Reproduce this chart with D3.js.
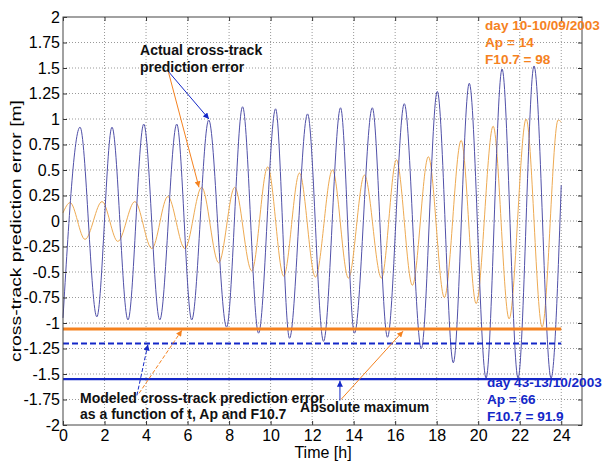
<!DOCTYPE html>
<html>
<head>
<meta charset="utf-8">
<style>
  body { margin: 0; background: #fff; }
  svg { display: block; font-family: Arial, "Liberation Sans", sans-serif; }
</style>
</head>
<body>
<svg width="603" height="467"></svg>
<script src="https://d3js.org/d3.v7.min.js"></script>
<script>
// actual cross-track prediction error (blue), extrema
var blueT = [0, 0.82, 1.63, 2.36, 3.13, 3.89, 4.66, 5.48, 6.2, 7.02, 7.88, 8.65, 9.42, 10.24, 10.91, 11.78,
             12.55, 13.37, 14.04, 14.9, 15.63, 16.44, 17.26, 18.03, 18.8, 19.57, 20.38, 21.15, 21.92, 22.69, 23.51, 24];
var blueV = [-0.95, 0.92, -0.94, 0.92, -0.97, 0.95, -0.97, 0.95, -0.97, 0.99, -1.04, 1.12, -1.1, 1.1, -1.15, 1.05,
             -1.18, 1.11, -1.1, 1.11, -1.14, 1.15, -1.25, 1.27, -1.39, 1.35, -1.54, 1.49, -1.54, 1.52, -1.54, 0.35];

// second day (orange)
var orangeT = [0, 0.34, 1.06, 1.88, 2.64, 3.46, 4.28, 5.05, 5.87, 6.68, 7.5, 8.27, 9.09, 9.86, 10.63, 11.39,
               12.16, 12.98, 13.75, 14.52, 15.34, 16.06, 16.83, 17.6, 18.37, 19.18, 19.9, 20.72, 21.49, 22.31, 23.08, 23.85, 24];
var orangeV = [0.08, 0.18, -0.18, 0.19, -0.2, 0.19, -0.27, 0.24, -0.27, 0.33, -0.41, 0.33, -0.49, 0.53, -0.54, 0.47,
               -0.55, 0.5, -0.56, 0.45, -0.56, 0.6, -0.63, 0.63, -0.75, 0.79, -0.81, 0.93, -0.96, 1.0, -1.04, 0.99, 0.97];

// horizontal levels
var levelOrangeModel = -1.06;
var levelBlueModel = -1.2;
var levelBlueMax = -1.55;
var levelSpan = [0, 24];

var xTicks = [0, 2, 4, 6, 8, 10, 12, 14, 16, 18, 20, 22, 24];
var yTicks = [2, 1.75, 1.5, 1.25, 1, 0.75, 0.5, 0.25, 0, -0.25, -0.5, -0.75, -1, -1.25, -1.5, -1.75, -2];

var infoOrange = ["day 10-10/09/2003", "Ap = 14", "F10.7 = 98"];
var infoBlue = ["day 43-13/10/2003", "Ap = 66", "F10.7 = 91.9"];
var actualLabel = ["Actual cross-track", "prediction error"];
var modeledLabel = ["Modeled cross-track prediction error", "as a function of t, Ap and F10.7"];

var svg = d3.select("svg");
var pl = 63, pr = 582, pt = 17, pb = 425;

var x = d3.scaleLinear().domain([0, 25]).range([pl, pr]);
var y = d3.scaleLinear().domain([-2, 2]).range([pb, pt]);

var BLUE = "#1428c8", ORANGE = "#f5821f";
var blueCurve = "#5050a8", orangeCurve = "#eeaa52";

// arrow heads
var defs = svg.append("defs");
[["hb", BLUE], ["ho", ORANGE]].forEach(function(m) {
  defs.append("marker")
      .attr("id", m[0])
      .attr("viewBox", "0 0 10 10")
      .attr("refX", 10).attr("refY", 5)
      .attr("markerWidth", 7).attr("markerHeight", 6)
      .attr("markerUnits", "userSpaceOnUse")
      .attr("orient", "auto")
    .append("path")
      .attr("d", "M0,0L10,5L0,10Z")
      .attr("fill", m[1]);
});

// grid
svg.append("g").selectAll("line").data(xTicks.slice(1)).enter().append("line")
    .attr("x1", function(d) { return x(d); }).attr("x2", function(d) { return x(d); })
    .attr("y1", pt).attr("y2", pb)
    .attr("stroke", "#999").attr("stroke-dasharray", "1,2");
svg.append("g").selectAll("line").data(yTicks.slice(1, -1)).enter().append("line")
    .attr("x1", pl).attr("x2", pr)
    .attr("y1", function(d) { return y(d); }).attr("y2", function(d) { return y(d); })
    .attr("stroke", "#999").attr("stroke-dasharray", "1,2");

// curves
var line = d3.line()
    .x(function(d) { return x(d[0]); })
    .y(function(d) { return y(d[1]); })
    .curve(d3.curveMonotoneX);

svg.append("path")
    .datum(orangeT.map(function(t, i) { return [t, orangeV[i]]; }))
    .attr("d", line).attr("fill", "none")
    .attr("stroke", orangeCurve).attr("stroke-width", 1);

svg.append("path")
    .datum(blueT.map(function(t, i) { return [t, blueV[i]]; }))
    .attr("d", line).attr("fill", "none")
    .attr("stroke", blueCurve).attr("stroke-width", 1);

// model levels
function level(v, color, w, dash) {
  svg.append("line")
      .attr("x1", x(levelSpan[0])).attr("x2", x(levelSpan[1]))
      .attr("y1", y(v)).attr("y2", y(v))
      .attr("stroke", color).attr("stroke-width", w)
      .attr("stroke-dasharray", dash);
}
level(levelOrangeModel, ORANGE, 3, null);
level(levelBlueModel, BLUE, 2, "6,3");
level(levelBlueMax, BLUE, 2.2, null);

// axes
svg.append("g")
    .attr("transform", "translate(0," + pb + ")")
    .call(d3.axisBottom(x).tickValues(xTicks).tickSize(-4).tickPadding(5))
    .call(function(g) { g.select(".domain").remove(); });
svg.append("g")
    .attr("transform", "translate(" + pl + ",0)")
    .call(d3.axisLeft(y).tickValues(yTicks).tickSize(-4).tickPadding(3).tickFormat(function(d) { return String(d); }))
    .call(function(g) { g.select(".domain").remove(); });
svg.append("g")
    .attr("transform", "translate(" + pr + ",0)")
    .call(d3.axisRight(y).tickValues(yTicks).tickSize(-4).tickFormat(""))
    .call(function(g) { g.select(".domain").remove(); });
svg.append("g")
    .attr("transform", "translate(0," + pt + ")")
    .call(d3.axisTop(x).tickValues(xTicks).tickSize(-4).tickFormat(""))
    .call(function(g) { g.select(".domain").remove(); });
svg.selectAll(".tick text").attr("font-size", 16).attr("font-family", null).attr("fill", "#000");
svg.selectAll(".tick line").attr("stroke", "#333");

svg.append("rect")
    .attr("x", pl).attr("y", pt)
    .attr("width", pr - pl).attr("height", pb - pt)
    .attr("fill", "none").attr("stroke", "#444");

// axis labels
svg.append("text")
    .attr("x", 323).attr("y", 458)
    .attr("text-anchor", "middle").attr("font-size", 16)
    .text("Time [h]");
svg.append("text")
    .attr("transform", "translate(20.5,231) rotate(-90)")
    .attr("text-anchor", "middle").attr("font-size", 15.5)
    .attr("textLength", 262).attr("lengthAdjust", "spacingAndGlyphs")
    .text("cross-track prediction error [m]");

// annotations
function block(lines, t, v, color, size) {
  var txt = svg.append("text")
      .attr("x", x(t)).attr("y", y(v))
      .attr("font-size", size || 14).attr("font-weight", "bold")
      .attr("fill", color);
  lines.forEach(function(s, i) {
    txt.append("tspan").attr("x", x(t)).attr("dy", i ? 16.8 : 0).text(s);
  });
}
function arrow(t0, v0, t1, v1, color, head, dash) {
  svg.append("line")
      .attr("x1", x(t0)).attr("y1", y(v0))
      .attr("x2", x(t1)).attr("y2", y(v1))
      .attr("stroke", color).attr("stroke-width", 1)
      .attr("stroke-dasharray", dash)
      .attr("marker-end", "url(#" + head + ")");
}

arrow(5.06, 1.47, 7.03, 1.0, BLUE, "hb", null);
arrow(5.08, 1.46, 6.55, 0.33, ORANGE, "ho", null);
block(actualLabel, 3.71, 1.63, "#111");

block(infoOrange, 20.33, 1.87, ORANGE, 13.6);
block(infoBlue, 20.42, -1.63, BLUE, 13.6);

arrow(3.56, -1.71, 4.09, -1.21, BLUE, "hb", "4,2");
arrow(3.66, -1.69, 5.73, -1.07, ORANGE, "ho", "4,2");
block(modeledLabel, 0.82, -1.78, "#111");

arrow(13.34, -1.76, 13.34, -1.565, BLUE, "hb", null);
arrow(13.39, -1.75, 16.38, -1.08, ORANGE, "ho", null);
block(["Absolute maximum"], 11.42, -1.87, "#111");
</script>
</body>
</html>
